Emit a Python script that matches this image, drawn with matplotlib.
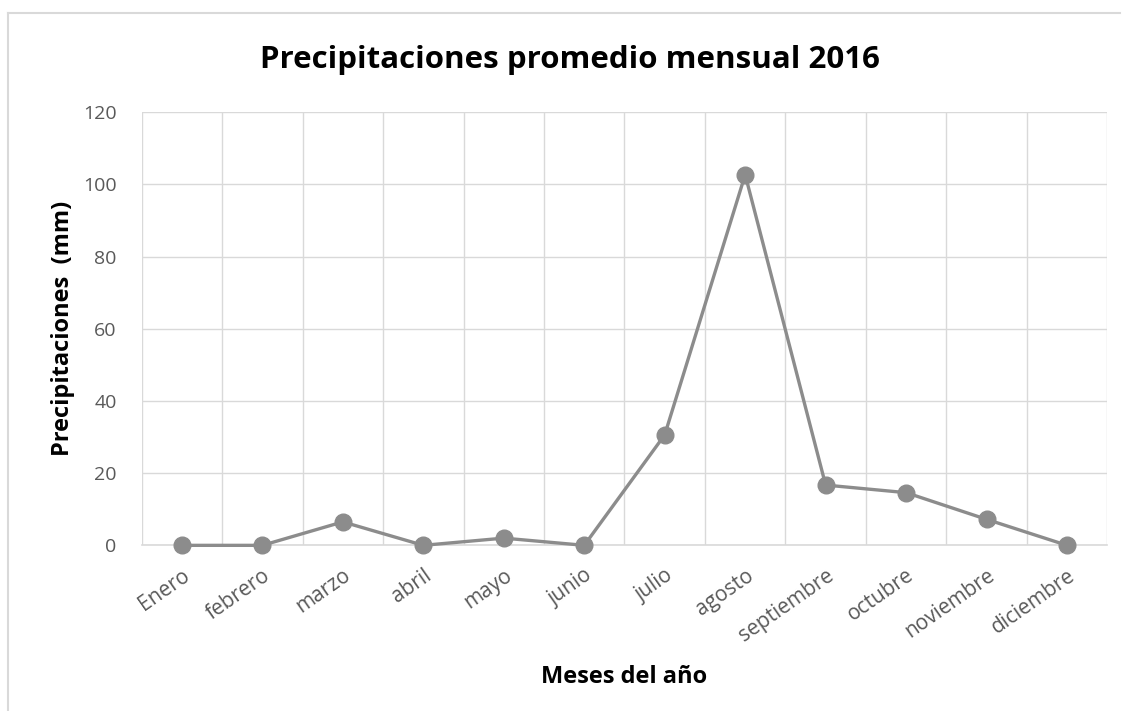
import matplotlib
matplotlib.use("Agg")
import matplotlib.pyplot as plt
from matplotlib.lines import Line2D
from matplotlib.ticker import FixedLocator

months = ["Enero", "febrero", "marzo", "abril", "mayo", "junio", "julio",
          "agosto", "septiembre", "octubre", "noviembre", "diciembre"]
precip = [0, 0, 6.5, 0, 2.0, 0, 30.6, 102.7, 16.7, 14.6, 7.2, 0]
y_ticks = [0, 20, 40, 60, 80, 100, 120]

plt.rcParams['font.family'] = ['Open Sans', 'DejaVu Sans']

fig = plt.figure(figsize=(11.27, 7.11), dpi=100)
ax = fig.add_axes([0.1257, 0.2330, 0.8568, 0.6091])

x = list(range(len(months)))
ax.plot(x, precip, color='#8c8c8c', lw=2.4, marker='o', markersize=12,
        markerfacecolor='#8c8c8c', markeredgecolor='#8c8c8c', zorder=3,
        clip_on=False)

ax.set_xlim(-0.5, len(months) - 0.5)
ax.set_ylim(0, 120)
ax.set_yticks(y_ticks)
ax.xaxis.set_major_locator(FixedLocator(x))
ax.set_xticklabels(months)
ax.xaxis.set_minor_locator(FixedLocator([i + 0.5 for i in range(-1, len(months))]))

ax.grid(True, axis='y', which='major', color='#d9d9d9', lw=1)
ax.grid(True, axis='x', which='minor', color='#d9d9d9', lw=1)
ax.grid(False, axis='x', which='major')
ax.set_axisbelow(True)

for s in ['top', 'right', 'left']:
    ax.spines[s].set_visible(False)
ax.spines['bottom'].set_color('#d9d9d9')
ax.spines['bottom'].set_linewidth(1.2)

ax.tick_params(axis='both', which='both', length=0)
ax.tick_params(axis='y', labelsize=14, labelcolor='#595959', pad=18)
ax.tick_params(axis='x', labelsize=15, labelcolor='#595959', pad=14)
for lbl in ax.get_xticklabels():
    lbl.set_rotation(35)
    lbl.set_ha('right')
    lbl.set_rotation_mode('anchor')

ax.set_xlabel('Meses del año', fontsize=17, fontweight='bold', color='#000000', labelpad=14)
ax.set_ylabel('Precipitaciones  (mm)', fontsize=17, fontweight='bold', color='#000000', labelpad=6)
fig.text(0.506, 0.916, 'Precipitaciones promedio mensual 2016', fontsize=22.5,
         fontweight='bold', ha='center', va='center', color='#000000')

# chart frame (top and left edges visible)
fig.add_artist(Line2D([8/1127, 1120/1127], [1 - 13/711, 1 - 13/711], color='#d9d9d9', lw=1.5, transform=fig.transFigure))
fig.add_artist(Line2D([8/1127, 8/1127], [0, 1 - 13/711], color='#d9d9d9', lw=1.5, transform=fig.transFigure))

fig.savefig('out.png', dpi=100, facecolor='white')
